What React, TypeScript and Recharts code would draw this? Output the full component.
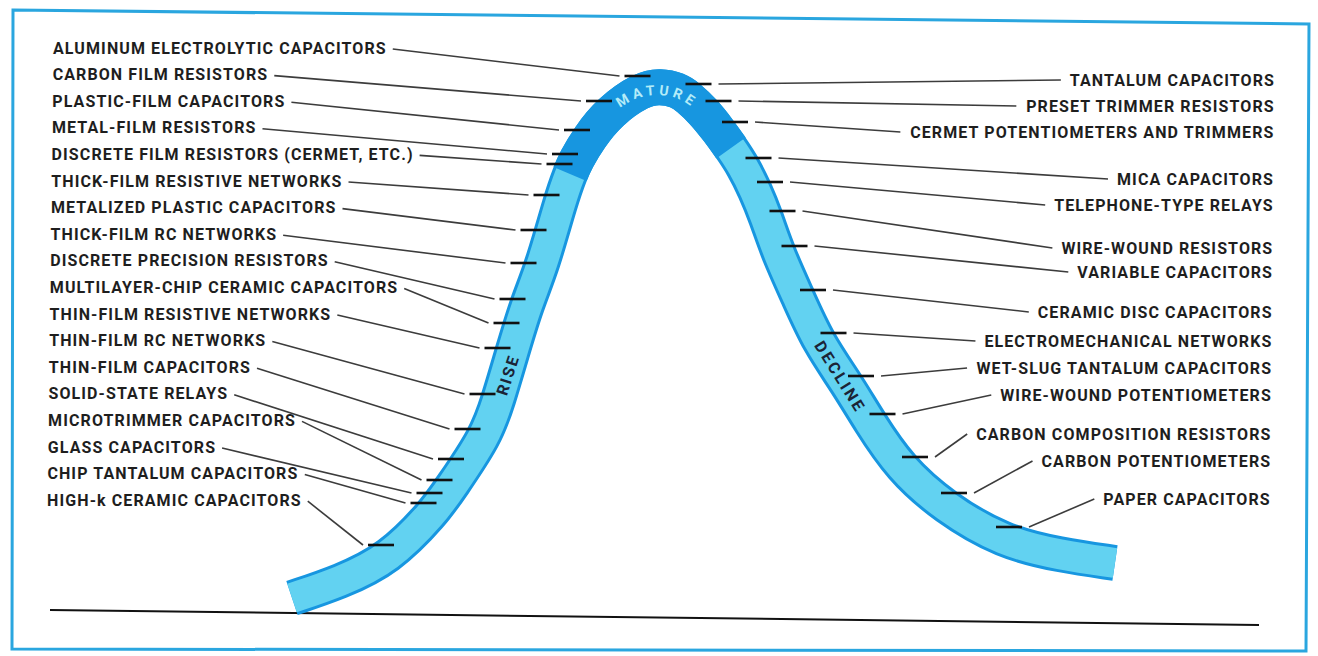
import React from "react";
import {
  ComposedChart,
  Line,
  Scatter,
  XAxis,
  YAxis,
  ReferenceLine,
  ReferenceDot,
} from "recharts";

// centre of the life-cycle band (t = time, level = volume)
const curveT = [
  24.2, 29.0, 33.9, 38.4, 40.0, 43.6, 44.8, 46.2, 47.7, 49.2, 51.1, 52.0, 52.6,
  53.9, 55.9, 59.2, 61.0, 62.8, 63.8, 65.3, 66.9, 68.1, 69.3, 70.5, 71.6, 72.8,
  74.8, 76.8, 79.7, 81.9, 85.0, 89.4, 95.3, 101.0, 106.5,
];
const curveLevel = [
  2.8, 6.0, 10.6, 20.0, 24.6, 35.2, 42.2, 51.8, 61.8, 69.0, 82.6, 87.6, 90.4,
  94.8, 100.0, 104.6, 105.2, 104.4, 103.0, 100.2, 96.2, 92.8, 89.2, 84.4, 79.0,
  71.8, 63.0, 54.0, 45.6, 38.2, 28.8, 21.0, 14.0, 11.4, 9.8,
];
const matureFrom = 52.0;
const matureTo = 68.1;

// components still growing (left of the peak)
const riseNames = [
  "ALUMINUM ELECTROLYTIC CAPACITORS",
  "CARBON FILM RESISTORS",
  "PLASTIC-FILM CAPACITORS",
  "METAL-FILM RESISTORS",
  "DISCRETE FILM RESISTORS (CERMET, ETC.)",
  "THICK-FILM RESISTIVE NETWORKS",
  "METALIZED PLASTIC CAPACITORS",
  "THICK-FILM RC NETWORKS",
  "DISCRETE PRECISION RESISTORS",
  "MULTILAYER-CHIP CERAMIC CAPACITORS",
  "THIN-FILM RESISTIVE NETWORKS",
  "THIN-FILM RC NETWORKS",
  "THIN-FILM CAPACITORS",
  "SOLID-STATE RELAYS",
  "MICROTRIMMER CAPACITORS",
  "GLASS CAPACITORS",
  "CHIP TANTALUM CAPACITORS",
  "HIGH-k CERAMIC CAPACITORS",
];
const riseT = [
  58.75, 54.9, 52.7, 51.5, 50.95, 49.65, 48.35, 47.35, 46.25, 45.65, 44.75,
  43.25, 41.75, 40.1, 38.95, 37.95, 37.35, 33.1,
];
const riseLevel = [
  107.2, 102.2, 96.4, 91.6, 89.6, 83.4, 76.4, 69.8, 62.6, 57.8, 52.8, 43.6,
  36.6, 30.6, 26.4, 23.8, 21.8, 13.4,
];

// components past the peak
const declineNames = [
  "TANTALUM CAPACITORS",
  "PRESET TRIMMER RESISTORS",
  "CERMET POTENTIOMETERS AND TRIMMERS",
  "MICA CAPACITORS",
  "TELEPHONE-TYPE RELAYS",
  "WIRE-WOUND RESISTORS",
  "VARIABLE CAPACITORS",
  "CERAMIC DISC CAPACITORS",
  "ELECTROMECHANICAL NETWORKS",
  "WET-SLUG TANTALUM CAPACITORS",
  "WIRE-WOUND POTENTIOMETERS",
  "CARBON COMPOSITION RESISTORS",
  "CARBON POTENTIOMETERS",
  "PAPER CAPACITORS",
];
const declineT = [
  64.85, 66.85, 68.5, 70.85, 72.0, 73.25, 74.45, 76.3, 78.35, 81.1, 83.25, 86.5,
  90.4, 95.9,
];
const declineLevel = [
  105.6, 102.2, 98.0, 90.8, 86.0, 80.2, 73.2, 64.4, 55.8, 47.2, 39.6, 31.0,
  23.8, 17.0,
];

// label rows on the right (page px), the left ones are evenly spaced
const declineRows = [80, 106, 132, 179, 205, 248, 272, 312, 341, 368, 395, 434, 461, 499];

const DARK = "#1796e0";
const LIGHT = "#62d2f1";
const INK = "#1e1e1e";
const FONT = "Roboto, 'Liberation Sans', sans-serif";
const FS = 16;
const LS = 1.1;

const curve = curveT.map((t, i) => ({ t, level: curveLevel[i] }));
const mature = curve.filter((d) => d.t >= matureFrom && d.t <= matureTo);
const rise = riseNames.map((name, i) => ({ name, i, t: riseT[i], level: riseLevel[i] }));
const decline = declineNames.map((name, i) => ({
  name,
  i,
  t: declineT[i],
  level: declineLevel[i],
}));

let ctx: CanvasRenderingContext2D | null = null;
function textWidth(s: string) {
  if (!ctx) ctx = document.createElement("canvas").getContext("2d");
  if (!ctx) return s.length * 10;
  ctx.font = `700 ${FS}px Roboto`;
  (ctx as any).letterSpacing = `${LS}px`;
  return ctx.measureText(s).width;
}

const labelProps = {
  fontFamily: FONT,
  fontSize: FS,
  fontWeight: 700,
  letterSpacing: LS,
  fill: INK,
  dominantBaseline: "central" as const,
};

const RiseMark = (p: any) => {
  const { cx, cy, payload } = p;
  const y = 48 + payload.i * 26.6;
  const x = 53 - payload.i * 0.35;
  const w = textWidth(payload.name);
  return (
    <g>
      <line x1={x + w + 6} y1={y + 1} x2={cx - 18} y2={cy} stroke="#3c3c3c" strokeWidth={1.6} />
      <line x1={cx - 13} y1={cy} x2={cx + 13} y2={cy} stroke="#111" strokeWidth={2.6} />
      <text x={x} y={y} {...labelProps}>
        {payload.name}
      </text>
    </g>
  );
};

const DeclineMark = (p: any) => {
  const { cx, cy, payload } = p;
  const y = declineRows[payload.i];
  const xEnd = 1275 - (y - 80) * 0.01;
  const w = textWidth(payload.name);
  return (
    <g>
      <line x1={cx + 20} y1={cy} x2={xEnd - w - 9} y2={y} stroke="#3c3c3c" strokeWidth={1.6} />
      <line x1={cx - 13} y1={cy} x2={cx + 13} y2={cy} stroke="#111" strokeWidth={2.6} />
      <text x={xEnd} y={y} textAnchor="end" {...labelProps}>
        {payload.name}
      </text>
    </g>
  );
};

const MatureText = (p: any) => {
  const { cx, cy } = p;
  const r = 58;
  const d = `M ${cx - r} ${cy} A ${r} ${r} 0 0 1 ${cx + r} ${cy}`;
  return (
    <g>
      <defs>
        <path id="matureArc" d={d} />
      </defs>
      <text fill="#b4ecf8" fontFamily={FONT} fontSize={14} fontWeight={700} letterSpacing={4}>
        <textPath href="#matureArc" startOffset="50%" textAnchor="middle">
          MATURE
        </textPath>
      </text>
    </g>
  );
};

const StageText = (label: string, angle: number, spacing: number) => (p: any) => (
  <text
    x={p.cx}
    y={p.cy}
    transform={`rotate(${angle} ${p.cx} ${p.cy})`}
    textAnchor="middle"
    dominantBaseline="central"
    fontFamily={FONT}
    fontSize={16}
    fontWeight={700}
    letterSpacing={spacing}
    fill="#1b2436"
  >
    {label}
  </text>
);

const band = (data: { t: number; level: number }[], color: string, width: number) => (
  <Line
    data={data}
    dataKey="level"
    type="basis"
    stroke={color}
    strokeWidth={width}
    strokeLinecap="butt"
    dot={false}
    activeDot={false}
    isAnimationActive={false}
  />
);

export default function App() {
  return (
    <div
      style={{
        position: "absolute",
        left: 0,
        top: 0,
        width: 1318,
        height: 656,
        background: "#fff",
      }}
    >
      <ComposedChart
        width={1318}
        height={656}
        margin={{ top: 12, right: 58, bottom: 44, left: 50 }}
      >
        <XAxis dataKey="t" type="number" domain={[0, 121]} hide />
        <YAxis type="number" domain={[0, 120]} hide />
        <ReferenceLine
          segment={[
            { x: 0, y: 0.4 },
            { x: 120.9, y: -2.6 },
          ]}
          stroke="#111"
          strokeWidth={2}
          ifOverflow="visible"
        />
        {band(curve, DARK, 36)}
        {band(curve, LIGHT, 30)}
        {band(mature, DARK, 36)}
        <Scatter data={rise} dataKey="level" shape={RiseMark} isAnimationActive={false} />
        <Scatter data={decline} dataKey="level" shape={DeclineMark} isAnimationActive={false} />
        <ReferenceDot x={60.7} y={91.8} r={0} ifOverflow="visible" shape={MatureText} />
        <ReferenceDot x={45.8} y={47.4} r={0} ifOverflow="visible" shape={StageText("RISE", -72, 2)} />
        <ReferenceDot x={79.0} y={47.0} r={0} ifOverflow="visible" shape={StageText("DECLINE", 58, 2.5)} />
      </ComposedChart>
      <svg
        width={1318}
        height={656}
        style={{ position: "absolute", left: 0, top: 0, pointerEvents: "none" }}
      >
        <polygon points="13,10 1309,24 1306,651 12,649" fill="none" stroke="#2aa6df" strokeWidth={3} />
      </svg>
    </div>
  );
}
